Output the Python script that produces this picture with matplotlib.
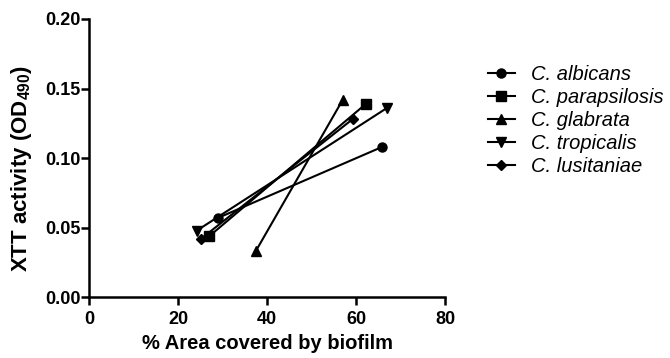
import matplotlib
matplotlib.use("Agg")
import matplotlib.pyplot as plt

# --- data (two points per species) ---
species = ["C. albicans", "C. parapsilosis", "C. glabrata", "C. tropicalis", "C. lusitaniae"]
markers = ["o", "s", "^", "v", "D"]
area_x = [[28.9, 65.8], [27.0, 62.2], [37.4, 57.0], [24.2, 66.9], [25.1, 59.2]]
xtt_y = [[0.057, 0.108], [0.044, 0.139], [0.033, 0.142], [0.048, 0.136], [0.042, 0.128]]
x_ticks = [0, 20, 40, 60, 80]
y_ticks = [0.00, 0.05, 0.10, 0.15, 0.20]

plt.rcParams["font.family"] = ["Liberation Sans", "DejaVu Sans"]
plt.rcParams["mathtext.fontset"] = "custom"
plt.rcParams["mathtext.rm"] = "Liberation Sans:bold"
plt.rcParams["mathtext.default"] = "rm"

fig = plt.figure(figsize=(6.7, 3.58), dpi=100)
ax = fig.add_axes([0.1333, 0.1695, 0.531, 0.7775])

for name, mk, xs, ys in zip(species, markers, area_x, xtt_y):
    ms = 5.5 if mk == "D" else 6.5
    ax.plot(xs, ys, color="black", lw=1.5, marker=mk, ms=ms, label=name, clip_on=False)

ax.set_xlim(0, 80)
ax.set_ylim(0, 0.20)
ax.set_xticks(x_ticks)
ax.set_yticks(y_ticks)
ax.set_xticklabels([str(t) for t in x_ticks], fontweight="bold", fontsize=13)
ax.set_yticklabels([f"{t:.2f}" for t in y_ticks], fontweight="bold", fontsize=13)
for side in ["top", "right"]:
    ax.spines[side].set_visible(False)
for side in ["left", "bottom"]:
    ax.spines[side].set_linewidth(1.8)
ax.tick_params(direction="out", length=6, width=1.8)
ax.tick_params(axis="y", pad=0.5)
ax.tick_params(axis="x", pad=4)

ax.set_xlabel("% Area covered by biofilm", fontweight="bold", fontsize=14.5, labelpad=4)
ax.set_ylabel("XTT activity (OD$_{490}$)", fontweight="bold", fontsize=16)
ax.yaxis.set_label_coords(-0.155, 0.463)

leg = ax.legend(loc="upper left", bbox_to_anchor=(0.728, 0.818), bbox_transform=fig.transFigure,
                frameon=False, prop={"style": "italic", "size": 14.5}, handlelength=1.35,
                handletextpad=0.8, labelspacing=0.2, borderaxespad=0, borderpad=0)

fig.savefig("out.png", dpi=100)
